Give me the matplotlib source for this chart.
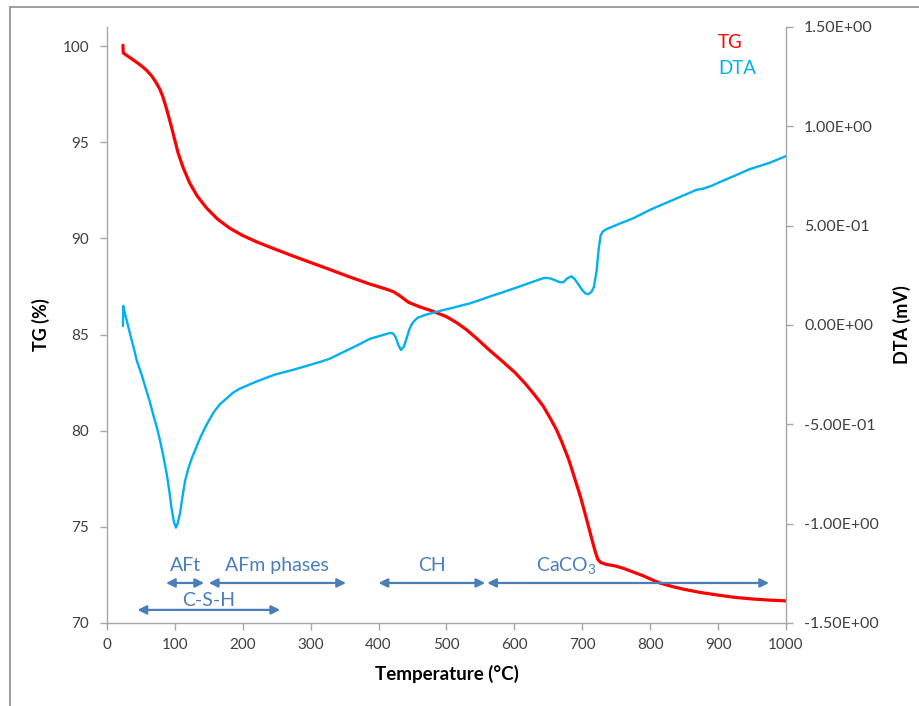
import numpy as np
import matplotlib
matplotlib.use("Agg")
import matplotlib.pyplot as plt
from matplotlib.patches import Rectangle
from matplotlib.ticker import FixedLocator, FuncFormatter

plt.rcParams['font.family'] = ['Lato', 'DejaVu Sans']
plt.rcParams['mathtext.fontset'] = 'custom'
plt.rcParams['mathtext.rm'] = 'Lato'

# Thermogravimetric curve (mass %, left axis)
tg_temp = [23.5, 24, 30, 39, 50, 58, 66, 73, 78, 82, 86, 90, 95, 100, 105, 112, 122,
           133, 147, 163, 181, 200, 220, 245, 270, 296, 324, 355, 387, 410, 422,
           432, 444, 460, 478, 500, 515, 530, 546, 562, 582, 601, 616, 630, 642,
           652, 662, 670, 680, 689, 697, 704, 710, 716, 720, 723, 727, 735, 748,
           760, 775, 790, 802, 814, 832, 850, 875, 900, 925, 950, 975, 1000]
tg_pct = [100.05, 99.65, 99.5, 99.28, 99.0, 98.76, 98.45, 98.07, 97.75, 97.4,
          96.95, 96.45, 95.8, 95.1, 94.42, 93.7, 92.87, 92.2, 91.57, 91.0, 90.53,
          90.15, 89.83, 89.48, 89.14, 88.8, 88.44, 88.03, 87.63, 87.38, 87.23,
          87.0, 86.68, 86.45, 86.24, 85.93, 85.62, 85.24, 84.75, 84.23, 83.62,
          83.02, 82.45, 81.85, 81.3, 80.7, 80.05, 79.4, 78.5, 77.5, 76.6, 75.7,
          74.9, 74.1, 73.6, 73.3, 73.15, 73.05, 72.97, 72.85, 72.65, 72.45, 72.26,
          72.08, 71.9, 71.75, 71.58, 71.45, 71.33, 71.25, 71.19, 71.15]

# Differential thermal analysis curve (mV, right axis)
dta_temp = [23.5, 24, 27, 30, 34, 39, 44, 51, 58, 63, 68, 73, 78, 83, 88, 92, 95,
            98.5, 101.6, 104, 107.5, 111, 115, 120, 125, 131, 137, 147, 157, 166,
            176, 186, 196, 220, 247, 275, 300, 315, 328, 343, 358, 373, 387, 402,
            417, 421, 425, 429, 433, 437, 441, 445, 449, 453, 458, 468, 481, 495,
            510, 522, 535, 548, 562, 585, 608, 626, 644, 652, 660, 667, 672, 678,
            684, 689, 695, 700, 705, 709, 713, 717, 721, 724, 727, 730, 736, 755,
            775, 800, 834, 868, 878, 890, 903, 925, 947, 975, 1000]
dta_mv = [-0.005, 0.096, 0.05, 0.01, -0.045, -0.11, -0.18, -0.25, -0.33, -0.385,
          -0.45, -0.51, -0.58, -0.66, -0.75, -0.84, -0.92, -0.99, -1.02, -1.0,
          -0.95, -0.87, -0.785, -0.72, -0.67, -0.62, -0.57, -0.5, -0.44, -0.4,
          -0.37, -0.34, -0.32, -0.285, -0.25, -0.225, -0.2, -0.185, -0.17, -0.145,
          -0.12, -0.095, -0.07, -0.055, -0.04, -0.042, -0.06, -0.1, -0.126, -0.11,
          -0.07, -0.025, 0.005, 0.022, 0.037, 0.05, 0.062, 0.075, 0.087, 0.098,
          0.109, 0.124, 0.141, 0.167, 0.194, 0.216, 0.237, 0.235, 0.225, 0.215,
          0.215, 0.235, 0.245, 0.23, 0.2, 0.175, 0.158, 0.155, 0.165, 0.19, 0.27,
          0.38, 0.45, 0.47, 0.483, 0.51, 0.537, 0.58, 0.63, 0.68, 0.686, 0.70,
          0.72, 0.752, 0.785, 0.815, 0.85]

# Decomposition ranges of the hydrate phases
phase_names = ['AFt', 'AFm phases', 'CH', 'CaCO$_\\mathregular{3}$', 'C-S-H']
phase_start = [87, 150, 400, 560, 45]
phase_end = [143, 352, 557, 975, 255]
phase_level = [72.08, 72.08, 72.08, 72.08, 70.68]
phase_label_temp = [115, 250, 478, 677, 150]
phase_label_level = [73.0, 73.0, 73.0, 72.95, 71.15]

x_ticks = list(range(0, 1001, 100))
tg_ticks = [70, 75, 80, 85, 90, 95, 100]
dta_ticks = [-1.5, -1.0, -0.5, 0.0, 0.5, 1.0, 1.5]

red = '#FF0000'
cyan = '#00B0F0'
arrow_blue = '#4A7EBB'
axis_grey = '#A6A6A6'
text_grey = '#404040'

fig = plt.figure(figsize=(9.19, 7.06), dpi=100)
ax = fig.add_axes([0.1164, 0.1176, 0.7389, 0.8442])
ax2 = ax.twinx()

ax.plot(tg_temp, tg_pct, color=red, lw=2.3, solid_joinstyle='round',
        solid_capstyle='round')
ax2.plot(dta_temp, dta_mv, color=cyan, lw=1.7, solid_joinstyle='round',
         solid_capstyle='round')

ax.set_xlim(0, 1000)
ax.set_ylim(70, 101)
ax2.set_ylim(-1.5, 1.5)
ax.xaxis.set_major_locator(FixedLocator(x_ticks))
ax.yaxis.set_major_locator(FixedLocator(tg_ticks))
ax2.yaxis.set_major_locator(FixedLocator(dta_ticks))
ax2.yaxis.set_major_formatter(FuncFormatter(lambda v, p: f"{v:.2E}"))

for a in (ax, ax2):
    for s in a.spines.values():
        s.set_color(axis_grey)
        s.set_linewidth(1.0)
    a.spines['top'].set_visible(False)
    a.tick_params(colors=axis_grey, labelcolor=text_grey, labelsize=11,
                  length=5, width=1.0, direction='out')
ax.spines['right'].set_visible(False)
ax2.spines['left'].set_visible(False)
ax2.spines['bottom'].set_visible(False)
ax.tick_params(axis='y', pad=8)
ax.tick_params(axis='x', pad=6)
ax2.tick_params(axis='y', pad=8, labelsize=11.5)

ax.set_xlabel('Temperature (\u00b0C)', fontsize=13.5, fontweight='bold', color='black', labelpad=9)
ax.set_ylabel('TG (%)', fontsize=13, fontweight='bold', color='black', labelpad=9)
ax2.set_ylabel('DTA (mV)', fontsize=13, fontweight='bold', color='black', labelpad=10)

# Phase range arrows with labels
for name, t0, t1, lvl, tl, ll in zip(phase_names, phase_start, phase_end,
                                     phase_level, phase_label_temp, phase_label_level):
    ax.annotate('', xy=(t1, lvl), xytext=(t0, lvl),
                arrowprops=dict(arrowstyle='<|-|>', color=arrow_blue, lw=1.6,
                                mutation_scale=13, shrinkA=0, shrinkB=0))
    ax.text(tl, ll, name, color=arrow_blue, fontsize=14,
            ha='center', va='center')

# Series captions in the upper right
fig.text(718 / 919, 1 - 43 / 706, 'TG', color=red, fontsize=13.5, va='center', ha='left')
fig.text(718 / 919, 1 - 69 / 706, 'DTA', color=cyan, fontsize=13.5, va='center', ha='left')

# Chart frame
fig.patches.append(Rectangle((10 / 919, -0.05), 1.2, 1 - 7 / 706 + 0.05,
                             transform=fig.transFigure, fill=False,
                             ec='#8C8C8C', lw=1.2))

fig.savefig('out.png', dpi=100)
